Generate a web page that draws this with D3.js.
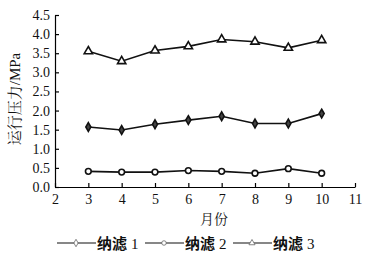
<!DOCTYPE html>
<html><head><meta charset="utf-8">
<script src="https://cdn.jsdelivr.net/npm/d3@7"></script>
<style>body{margin:0;background:#fff}svg{display:block}</style>
</head><body>
<script>
const months = [3,4,5,6,7,8,9,10];
const nf1 = [1.57,1.49,1.64,1.75,1.85,1.66,1.66,1.92];
const nf2 = [0.41,0.39,0.39,0.43,0.41,0.36,0.48,0.36];
const nf3 = [3.55,3.29,3.57,3.68,3.86,3.80,3.64,3.84];
const seriesNames = ["纳滤 1","纳滤 2","纳滤 3"];
const xTicks = [2,3,4,5,6,7,8,9,10,11];
const yTicks = [0,0.5,1.0,1.5,2.0,2.5,3.0,3.5,4.0,4.5];

const SERIF = '"Liberation Serif", "Noto Serif CJK SC", serif';
const W=372,H=262;
const svg=d3.select("body").append("svg").attr("width",W).attr("height",H);
const x=d3.scaleLinear().domain([2,11]).range([55,355]);
const y=d3.scaleLinear().domain([0,4.5]).range([187,15]);

const xa=svg.append("g").attr("transform","translate(0,187)")
 .call(d3.axisBottom(x).tickValues(xTicks).tickSizeInner(-4).tickSizeOuter(0).tickPadding(7).tickFormat(d3.format("d")));
const ya=svg.append("g").attr("transform","translate(55,0)")
 .call(d3.axisLeft(y).tickValues(yTicks).tickSizeInner(-4).tickSizeOuter(0).tickPadding(5).tickFormat(d3.format(".1f")));
[xa,ya].forEach(a=>{a.attr("font-family",null).attr("font-size",null);
 a.selectAll("path,line").attr("stroke","#000").attr("stroke-width",1.2);
 a.selectAll("text").style("font-family",SERIF).style("font-size","14px").attr("fill","#111");});

svg.append("text").attr("transform","translate(20,99) rotate(-90)").attr("text-anchor","middle")
 .style("font-family",SERIF).style("font-size","15px").attr("fill","#111").text("运行压力/MPa");
svg.append("text").attr("x",214).attr("y",224).attr("text-anchor","middle")
 .style("font-family",SERIF).style("font-size","14px").attr("fill","#111").text("月份");

const data=[nf1,nf2,nf3];
const line=d3.line().x((d,i)=>x(months[i])).y(d=>y(d));
const sym=[d3.symbolDiamond,d3.symbolCircle,d3.symbolTriangle];
const symSize=[22,26,30];
data.forEach((s,k)=>{
 svg.append("path").attr("d",line(s)).attr("fill","none").attr("stroke","#111").attr("stroke-width",1.6);
 svg.selectAll(null).data(s).enter().append("path")
  .attr("transform",(d,i)=>`translate(${x(months[i])},${y(d)})`)
  .attr("d",d3.symbol().type(sym[k]).size(symSize[k]))
  .attr("fill",k==0?"#444":"#fff").attr("stroke","#111").attr("stroke-width",1.6);
});

// legend
const lx=[57,145,233];
seriesNames.forEach((n,k)=>{
 const g=svg.append("g").attr("transform",`translate(${lx[k]},243)`);
 g.append("line").attr("x1",0).attr("x2",39).attr("y1",0).attr("y2",0).attr("stroke","#111").attr("stroke-width",1.1);
 g.append("path").attr("transform","translate(19,0)").attr("d",d3.symbol().type(sym[k]).size(16))
  .attr("fill","#fff").attr("stroke","#666").attr("stroke-width",0.8);
 const t=g.append("text").attr("x",40).attr("y",6).attr("fill","#111");
 t.append("tspan").style("font-family","'Noto Sans CJK SC',sans-serif").style("font-weight","bold").style("font-size","15px").text(n.split(" ")[0]);
 t.append("tspan").style("font-family",SERIF).style("font-size","15px").attr("dx",4).text(n.split(" ")[1]);
});
</script>
</body></html>
